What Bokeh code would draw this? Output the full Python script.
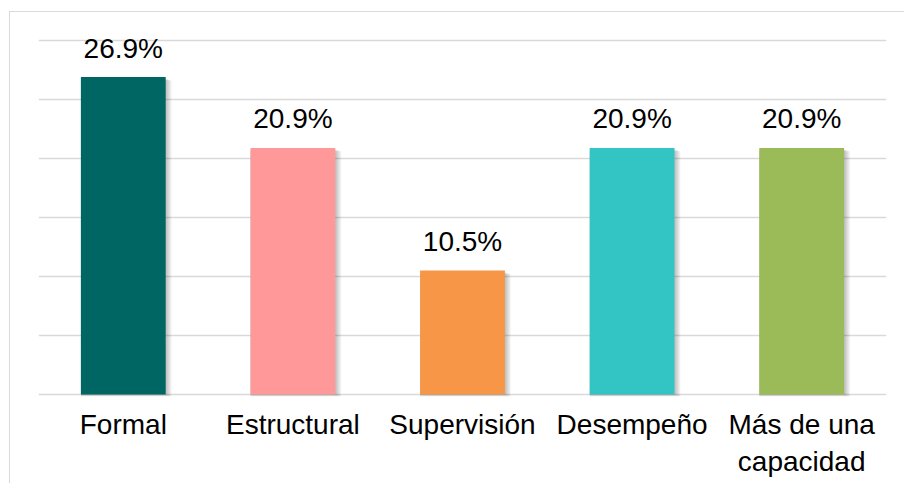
from bokeh.plotting import figure
from bokeh.models import ColumnDataSource, FactorRange, Range1d, SingleIntervalTicker
from bokeh.core.properties import value
from bokeh.embed import file_html
from bokeh.resources import INLINE

# Share of each capacity type (%)
categories = ["Formal", "Estructural", "Supervisión", "Desempeño", "Más de una\ncapacidad"]
percentages = [26.9, 20.9, 10.5, 20.9, 20.9]
labels = ["26.9%", "20.9%", "10.5%", "20.9%", "20.9%"]
colors = ["#006663", "#FF9999", "#F79646", "#33C4C4", "#9BBB59"]

W, H = 895, 472
ML, MR = 28, 19
PAD = 3  # extra pixels above/below so the 0% and 30% grid lines show
MT, MB = 28 - PAD, 90 - PAD
PX_PER_PCT = 353 / 30.0

p = figure(
    x_range=FactorRange(factors=categories, range_padding=0),
    y_range=Range1d(-PAD / PX_PER_PCT, 30 + PAD / PX_PER_PCT),
    width=W, height=H,
    output_backend="svg", toolbar_location=None,
    min_border_left=ML, min_border_right=MR, min_border_top=MT, min_border_bottom=MB,
    margin=(11, 0, 0, 9),
)
p.styles = {"border-left": "1px solid #d9d9d9", "border-top": "1px solid #d9d9d9"}
p.outline_line_color = None
p.background_fill_color = "white"
p.border_fill_color = "white"

# horizontal grid every 5%
p.yaxis.visible = False
p.yaxis.ticker = SingleIntervalTicker(interval=5)
p.ygrid.grid_line_color = "#d9d9d9"
p.ygrid.grid_line_width = 1.5
p.xgrid.grid_line_color = None

# soft drop shadow: stacked translucent layers to the right of each bar
n = len(categories)
px_x = 1.0 / ((W - ML - MR) / n)
px_y = 1.0 / PX_PER_PCT
for i in range(1, 7):
    shadow = ColumnDataSource(dict(
        left=[k + 0.25 for k in range(n)],
        right=[k + 0.75 + i * px_x for k in range(n)],
        top=[v - (1 + i * 0.4) * px_y for v in percentages],
        bottom=[-i * 0.35 * px_y] * n,
    ))
    p.quad(left="left", right="right", top="top", bottom="bottom", source=shadow,
           fill_color="black", fill_alpha=0.045, line_color=None)

src = ColumnDataSource(dict(x=categories, top=percentages, color=colors, label=labels))
p.vbar(x="x", top="top", width=0.5, source=src, fill_color="color", line_color=None)

p.text(x="x", y="top", text="label", source=src,
       text_font=value("Liberation Sans"), text_font_size="28px",
       text_color="black", text_align="center", text_baseline="alphabetic",
       y_offset=-29)

p.xaxis.axis_line_color = None
p.xaxis.major_tick_line_color = None
p.xaxis.minor_tick_line_color = None
p.xaxis.major_label_text_font = "Liberation Sans"
p.xaxis.major_label_text_font_size = "28px"
p.xaxis.major_label_text_color = "black"
p.xaxis.major_label_standoff = 5

open("out.html", "w").write(file_html(p, INLINE))
